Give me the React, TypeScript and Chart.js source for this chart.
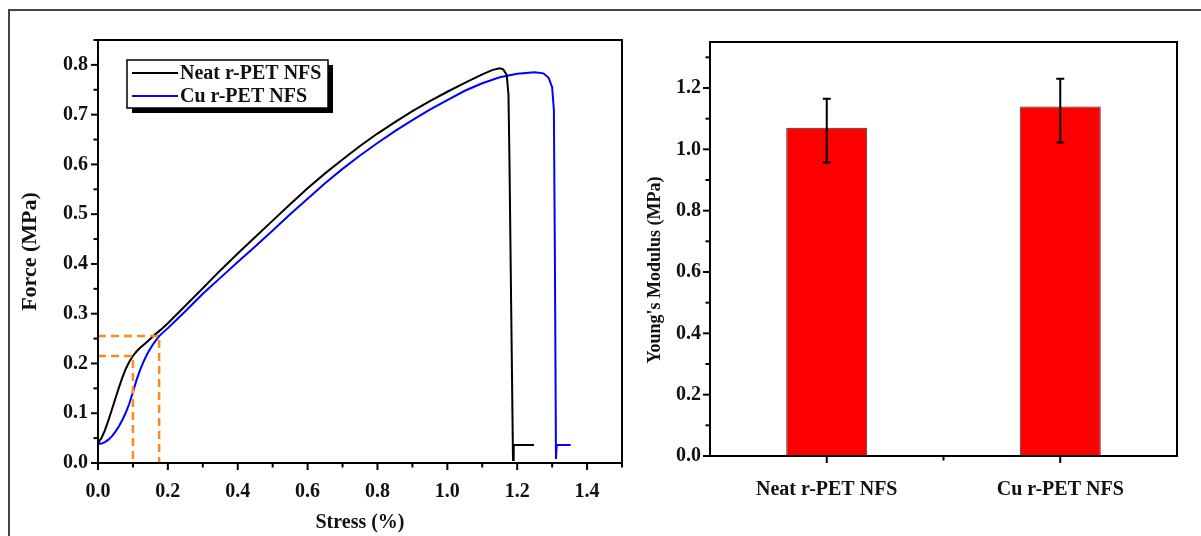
import React, { useEffect, useRef } from "react";
import { Chart, registerables } from "chart.js";

Chart.register(...registerables);

// ---------- data ----------
const neatStress = [0, 0.01, 0.02, 0.03, 0.04, 0.05, 0.06, 0.07, 0.08, 0.09, 0.1, 0.11, 0.12, 0.14, 0.16, 0.18, 0.2, 0.25, 0.3, 0.35, 0.4, 0.45, 0.5, 0.55, 0.6, 0.65, 0.7, 0.75, 0.8, 0.85, 0.9, 0.95, 1.0, 1.05, 1.1, 1.13, 1.15, 1.16, 1.17, 1.175, 1.178, 1.183, 1.188, 1.19, 1.248];
const neatForce = [0.04, 0.05, 0.066, 0.086, 0.108, 0.13, 0.152, 0.172, 0.19, 0.204, 0.215, 0.224, 0.231, 0.243, 0.256, 0.268, 0.281, 0.316, 0.351, 0.387, 0.421, 0.454, 0.487, 0.52, 0.552, 0.582, 0.61, 0.637, 0.662, 0.685, 0.707, 0.727, 0.746, 0.764, 0.781, 0.79, 0.793, 0.791, 0.78, 0.74, 0.6, 0.3, 0.006, 0.036, 0.036];

const cuStress = [0, 0.01, 0.02, 0.03, 0.04, 0.05, 0.06, 0.07, 0.08, 0.09, 0.1, 0.11, 0.12, 0.13, 0.14, 0.15, 0.16, 0.175, 0.2, 0.225, 0.25, 0.3, 0.35, 0.4, 0.45, 0.5, 0.55, 0.6, 0.65, 0.7, 0.75, 0.8, 0.85, 0.9, 0.95, 1.0, 1.05, 1.1, 1.15, 1.2, 1.25, 1.275, 1.29, 1.3, 1.305, 1.308, 1.311, 1.313, 1.353];
const cuForce = [0.038, 0.039, 0.042, 0.047, 0.054, 0.063, 0.074, 0.087, 0.102, 0.12, 0.143, 0.166, 0.186, 0.203, 0.218, 0.23, 0.241, 0.255, 0.271, 0.288, 0.305, 0.34, 0.372, 0.404, 0.435, 0.467, 0.5, 0.531, 0.562, 0.591, 0.618, 0.643, 0.667, 0.689, 0.71, 0.729, 0.748, 0.763, 0.775, 0.782, 0.785, 0.783, 0.774, 0.755, 0.71, 0.4, 0.008, 0.036, 0.036];

// dashed guide corners (stress, force)
const guideStress = [0.1, 0.175];
const guideForce = [0.215, 0.255];

const stressTicks = [0, 0.2, 0.4, 0.6, 0.8, 1.0, 1.2, 1.4];
const forceTicks = [0, 0.1, 0.2, 0.3, 0.4, 0.5, 0.6, 0.7, 0.8];

const samples = ["Neat r-PET NFS", "Cu r-PET NFS"];
const modulus = [1.07, 1.14];
const modulusUpper = [1.165, 1.23];
const modulusLower = [0.957, 1.022];
const modulusTicks = [0, 0.2, 0.4, 0.6, 0.8, 1.0, 1.2];
const modulusTitle = "Young's Modulus (MPa)";

// ---------- styling ----------
const SERIF = "'Liberation Serif', 'Times New Roman', serif";
const tickFont = { family: SERIF, size: 20, weight: "bold" as const };

const originAxes = {
  id: "originAxes",
  afterDatasetsDraw(chart: any, _args: any, opts: any) {
    const { ctx, chartArea: a, scales } = chart;
    ctx.save();
    ctx.strokeStyle = "#000";
    ctx.lineWidth = 2;
    ctx.lineCap = "square";
    ctx.strokeRect(a.left, a.top, a.right - a.left, a.bottom - a.top);
    const major = 6, minor = 3.5;
    const xs = scales.x, ys = scales.y;
    const tickX = (px: number, len: number) => {
      ctx.beginPath(); ctx.moveTo(px, a.bottom); ctx.lineTo(px, a.bottom + len); ctx.stroke();
    };
    const tickY = (py: number, len: number) => {
      ctx.beginPath(); ctx.moveTo(a.left, py); ctx.lineTo(a.left - len, py); ctx.stroke();
    };
    if (xs.type === "category") {
      const n = xs.ticks.length;
      for (let i = 0; i < n; i++) tickX(xs.getPixelForValue(i), major);
      for (let i = 0; i < n - 1; i++) tickX((xs.getPixelForValue(i) + xs.getPixelForValue(i + 1)) / 2, minor);
    } else {
      const vals = xs.ticks.map((t: any) => t.value);
      vals.forEach((v: number) => tickX(xs.getPixelForValue(v), major));
      for (let i = 0; i < vals.length; i++) {
        const m = vals[i] + opts.xMinor;
        if (m <= xs.max + 1e-9) tickX(xs.getPixelForValue(m), minor);
      }
    }
    const yv = ys.ticks.map((t: any) => t.value);
    yv.forEach((v: number) => tickY(ys.getPixelForValue(v), major));
    for (let i = 0; i < yv.length; i++) {
      const m = yv[i] + opts.yMinor;
      if (m <= ys.max + 1e-9) tickY(ys.getPixelForValue(m), minor);
    }
    if (opts.yTitle) {
      ctx.translate(opts.yTitle.x, opts.yTitle.y);
      ctx.rotate(-Math.PI / 2);
      ctx.font = `bold ${opts.yTitle.size}px ${SERIF}`;
      ctx.fillStyle = "#111";
      ctx.textAlign = "center";
      ctx.textBaseline = "middle";
      ctx.fillText(opts.yTitle.text, 0, 0);
    }
    ctx.restore();
  },
};

const boxLegend = {
  id: "boxLegend",
  afterDraw(chart: any) {
    const { ctx, chartArea: a } = chart;
    const items = chart.data.datasets.filter((d: any) => d.inLegend);
    const x = a.left + 29, y = a.top + 20, w = 201, h = 48;
    ctx.save();
    ctx.fillStyle = "#000";
    ctx.fillRect(x + 5, y + 5, w, h);
    ctx.fillStyle = "#fff";
    ctx.fillRect(x, y, w, h);
    ctx.strokeStyle = "#000";
    ctx.lineWidth = 1.5;
    ctx.strokeRect(x, y, w, h);
    ctx.font = `bold 20px ${SERIF}`;
    ctx.textBaseline = "middle";
    items.forEach((d: any, i: number) => {
      const cy = y + 13 + i * 23;
      ctx.strokeStyle = d.borderColor;
      ctx.lineWidth = 2;
      ctx.beginPath(); ctx.moveTo(x + 5, cy); ctx.lineTo(x + 51, cy); ctx.stroke();
      ctx.fillStyle = "#111";
      ctx.fillText(d.label, x + 53, cy + 1);
    });
    ctx.restore();
  },
};

const errorBars = {
  id: "errorBars",
  afterDatasetsDraw(chart: any) {
    const { ctx } = chart;
    const meta = chart.getDatasetMeta(0);
    const ys = chart.scales.y;
    ctx.save();
    ctx.strokeStyle = "#000";
    ctx.lineWidth = 2;
    meta.data.forEach((bar: any, i: number) => {
      const x = bar.x;
      const yt = ys.getPixelForValue(modulusUpper[i]);
      const yb = ys.getPixelForValue(modulusLower[i]);
      ctx.beginPath();
      ctx.moveTo(x, yt); ctx.lineTo(x, yb);
      ctx.moveTo(x - 4, yt); ctx.lineTo(x + 4, yt);
      ctx.moveTo(x - 4, yb); ctx.lineTo(x + 4, yb);
      ctx.stroke();
    });
    ctx.restore();
  },
};

function guideDataset(i: number) {
  return {
    label: "guide" + i,
    data: [
      { x: 0, y: guideForce[i] },
      { x: guideStress[i], y: guideForce[i] },
      { x: guideStress[i], y: 0 },
    ],
    borderColor: "#FF8A1C",
    borderWidth: 2.5,
    borderDash: [8, 5],
    pointRadius: 0,
    showLine: true,
    tension: 0,
  };
}

function StressChart() {
  const ref = useRef<HTMLCanvasElement>(null);
  useEffect(() => {
    const chart = new Chart(ref.current!, {
      type: "scatter",
      data: {
        datasets: [
          guideDataset(0),
          guideDataset(1),
          {
            label: "Neat r-PET NFS",
            inLegend: true,
            data: neatStress.map((x, i) => ({ x, y: neatForce[i] })),
            borderColor: "#000000",
            borderWidth: 2,
            pointRadius: 0,
            showLine: true,
            tension: 0,
          } as any,
          {
            label: "Cu r-PET NFS",
            inLegend: true,
            data: cuStress.map((x, i) => ({ x, y: cuForce[i] })),
            borderColor: "#0000FF",
            borderWidth: 2,
            pointRadius: 0,
            showLine: true,
            tension: 0,
          } as any,
        ],
      },
      options: {
        animation: false,
        responsive: false,
        layout: { padding: { left: 0, top: 40, right: 6, bottom: 0 } },
        plugins: {
          legend: { display: false },
          tooltip: { enabled: false },
          originAxes: { xMinor: 0.1, yMinor: 0.05 },
        } as any,
        scales: {
          x: {
            type: "linear",
            min: 0,
            max: 1.5,
            afterBuildTicks: (s: any) => { s.ticks = stressTicks.map((v) => ({ value: v })); },
            afterFit: (s: any) => { s.height = 73; },
            grid: { display: false },
            border: { display: false },
            ticks: { font: tickFont, color: "#111", padding: 9, maxRotation: 0, callback: (v: any) => Number(v).toFixed(1) },
            title: { display: true, text: "Stress (%)", font: { family: SERIF, size: 20, weight: "bold" }, color: "#111", padding: { top: 0, bottom: 1 } },
          },
          y: {
            type: "linear",
            min: 0,
            max: 0.85,
            afterBuildTicks: (s: any) => { s.ticks = forceTicks.map((v) => ({ value: v })); },
            afterFit: (s: any) => { s.width = 98; },
            grid: { display: false },
            border: { display: false },
            ticks: { font: tickFont, color: "#111", padding: 2, callback: (v: any) => Number(v).toFixed(1) },
            title: { display: true, text: "Force (MPa)", font: { family: SERIF, size: 22, weight: "bold" }, color: "#111", padding: { top: 17, bottom: 0 } },
          },
        },
      } as any,
      plugins: [originAxes, boxLegend],
    });
    return () => chart.destroy();
  }, []);
  return <canvas ref={ref} width={628} height={536} style={{ position: "absolute", left: 0, top: 0 }} />;
}

function ModulusChart() {
  const ref = useRef<HTMLCanvasElement>(null);
  useEffect(() => {
    const chart = new Chart(ref.current!, {
      type: "bar",
      data: {
        labels: samples,
        datasets: [
          {
            label: "Young's Modulus",
            data: modulus,
            backgroundColor: "#FF0000",
            borderColor: "#333333",
            borderWidth: 1,
            categoryPercentage: 1,
            barPercentage: 0.347,
          },
        ],
      },
      options: {
        animation: false,
        responsive: false,
        layout: { padding: { left: 0, top: 42, right: 24, bottom: 0 } },
        plugins: {
          legend: { display: false },
          tooltip: { enabled: false },
          originAxes: { xMinor: 0, yMinor: 0.1, yTitle: { text: modulusTitle, x: 27, y: 270, size: 18 } },
        } as any,
        scales: {
          x: {
            type: "category",
            offset: true,
            afterFit: (s: any) => { s.height = 80; },
            grid: { display: false },
            border: { display: false },
            ticks: { font: tickFont, color: "#111", padding: 14, maxRotation: 0 },
          },
          y: {
            type: "linear",
            min: 0,
            max: 1.35,
            afterBuildTicks: (s: any) => { s.ticks = modulusTicks.map((v) => ({ value: v })); },
            afterFit: (s: any) => { s.width = 82; },
            grid: { display: false },
            border: { display: false },
            ticks: { font: tickFont, color: "#111", padding: 1, callback: (v: any) => Number(v).toFixed(1) },
          },
        },
      } as any,
      plugins: [originAxes, errorBars],
    });
    return () => chart.destroy();
  }, []);
  return <canvas ref={ref} width={573} height={536} style={{ position: "absolute", left: 628, top: 0 }} />;
}

export default function App() {
  return (
    <div style={{ position: "absolute", left: 0, top: 0, width: 1201, height: 536, background: "#fff", overflow: "hidden" }}>
      <div style={{ position: "absolute", left: 8, top: 9, width: 1201, height: 600, borderTop: "2px solid #444", borderLeft: "2px solid #444" }} />
      <StressChart />
      <ModulusChart />
    </div>
  );
}
